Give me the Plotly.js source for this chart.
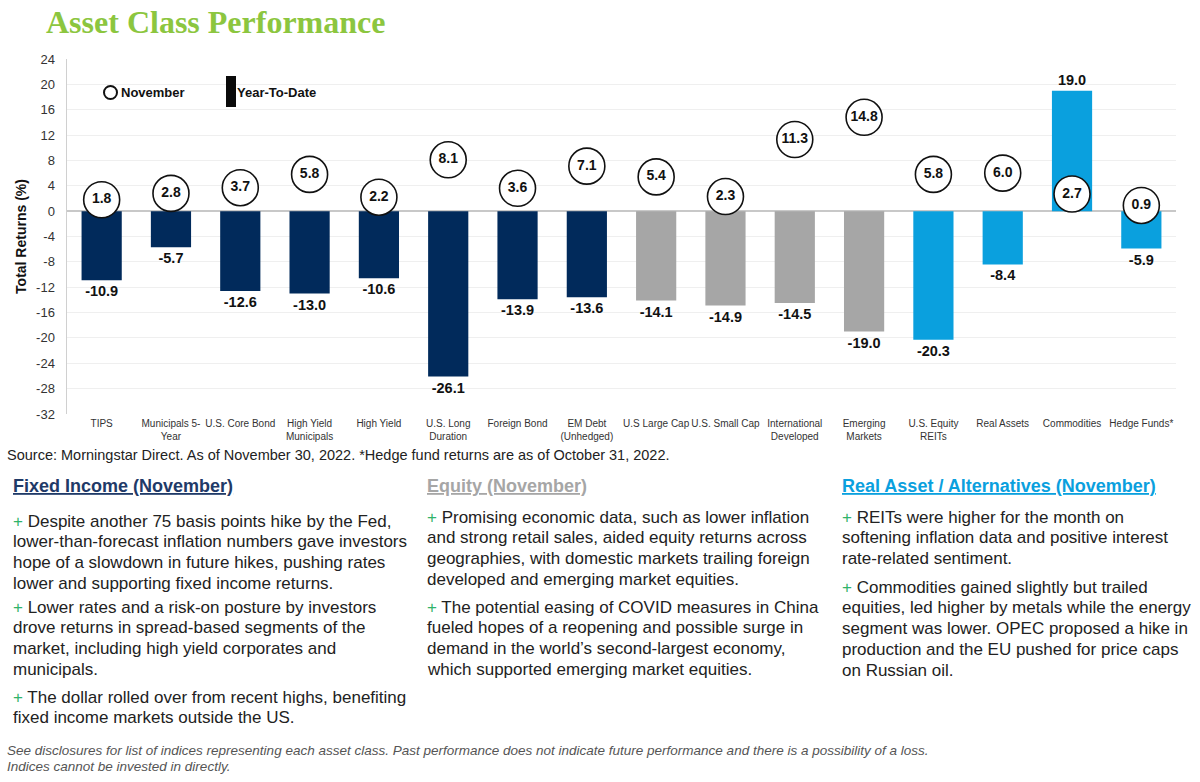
<!DOCTYPE html>
<html>
<head>
<meta charset="utf-8">
<script src="https://cdn.plot.ly/plotly-3.0.1.min.js"></script>
<style>html,body{margin:0;padding:0;background:#fff;}#chart{width:1200px;height:782px;}</style>
</head>
<body>
<div id="chart"></div>
<script>
// ---- data ----
const categories = ["TIPS", "Municipals 5-<br>Year", "U.S. Core Bond", "High Yield<br>Municipals", "High Yield",
  "U.S. Long<br>Duration", "Foreign Bond", "EM Debt<br>(Unhedged)", "U.S Large Cap", "U.S. Small Cap",
  "International<br>Developed", "Emerging<br>Markets", "U.S. Equity<br>REITs", "Real Assets", "Commodities", "Hedge Funds*"];
const ytdReturns = [-10.9, -5.7, -12.6, -13.0, -10.6, -26.1, -13.9, -13.6, -14.1, -14.9, -14.5, -19.0, -20.3, -8.4, 19.0, -5.9];
const novemberReturns = [1.8, 2.8, 3.7, 5.8, 2.2, 8.1, 3.6, 7.1, 5.4, 2.3, 11.3, 14.8, 5.8, 6.0, 2.7, 0.9];
const assetGroups = ["fixed","fixed","fixed","fixed","fixed","fixed","fixed","fixed",
  "equity","equity","equity","equity","real","real","real","real"];
const yTicks = [24, 20, 16, 12, 8, 4, 0, -4, -8, -12, -16, -20, -24, -28, -32];

const fixedIncomeNotes = [
  ["Despite another 75 basis points hike by the Fed,", "lower-than-forecast inflation numbers gave investors", "hope of a slowdown in future hikes, pushing rates", "lower and supporting fixed income returns."],
  ["Lower rates and a risk-on posture by investors", "drove returns in spread-based segments of the", "market, including high yield corporates and", "municipals."],
  ["The dollar rolled over from recent highs, benefiting", "fixed income markets outside the US."]
];
const equityNotes = [
  ["Promising economic data, such as lower inflation", "and strong retail sales, aided equity returns across", "geographies, with domestic markets trailing foreign", "developed and emerging market equities."],
  ["The potential easing of COVID measures in China", "fueled hopes of a reopening and possible surge in", "demand in the world’s second-largest economy,", "which supported emerging market equities."]
];
const realAssetNotes = [
  ["REITs were higher for the month on", "softening inflation data and positive interest", "rate-related sentiment."],
  ["Commodities gained slightly but trailed", "equities, led higher by metals while the energy", "segment was lower. OPEC proposed a hike in", "production and the EU pushed for price caps", "on Russian oil."]
];
const disclaimerLines = [
  "See disclosures for list of indices representing each asset class. Past performance does not indicate future performance and there is a possibility of a loss.",
  "Indices cannot be invested in directly."
];

const groupColors = {fixed: "#012a5b", equity: "#a6a6a6", real: "#0aa0de"};

// pixel -> paper helpers (plot area: x 67..1176, y 59..414)
const L = 67, R = 1176, T = 59, B = 414;
const px = v => (v - L) / (R - L);
const py = v => (B - v) / (B - T);

const font = "Liberation Sans, Arial, sans-serif";
const txt = "#222222";
const plus = '<span style="color:#2fb36a">+</span> ';

const barTrace = {
  type: "bar",
  x: categories,
  y: ytdReturns,
  marker: {color: assetGroups.map(g => groupColors[g])},
  width: 0.58,
  text: ytdReturns.map(v => "<b>" + v.toFixed(1) + "</b>"),
  textposition: "outside",
  textfont: {family: font, size: 14.5, color: "#111"},
  cliponaxis: false,
  hoverinfo: "skip",
  showlegend: false
};

const novTrace = {
  type: "scatter",
  mode: "markers+text",
  x: categories,
  y: novemberReturns,
  marker: {symbol: "circle", size: 36, color: "#ffffff", line: {color: "#111", width: 1.6}},
  text: novemberReturns.map(v => "<b>" + v.toFixed(1) + "</b>"),
  textposition: "middle center",
  textfont: {family: font, size: 14, color: "#111"},
  cliponaxis: false,
  hoverinfo: "skip",
  showlegend: false
};

function note(xp, yp, text, size, color, extra) {
  return Object.assign({
    xref: "paper", yref: "paper", x: px(xp), y: py(yp),
    xanchor: "left", yanchor: "middle", align: "left", showarrow: false,
    text: text, font: {family: font, size: size, color: color}
  }, extra || {});
}

const annotations = [
  note(44, 22, "<b>Asset Class Performance</b>", 32, "#8cc63f", {font: {family: "Liberation Serif, Times New Roman, serif", size: 32, color: "#8cc63f"}}),
  note(119, 92, "<b>November</b>", 13, "#111"),
  note(235, 92, "<b>Year-To-Date</b>", 13, "#111"),
  note(5, 455, "Source: Morningstar Direct. As of November 30, 2022. *Hedge fund returns are as of October 31, 2022.", 14.5, txt),
  note(11, 486, '<b><u>Fixed Income (November)</u></b>', 18, "#1f3a68"),
  note(425, 486, '<b><u>Equity (November)</u></b>', 18, "#a6a6a6"),
  note(840, 486, '<b><u>Real Asset / Alternatives (November)</u></b>', 18, "#0aa0de")
];

const pitch = 20.8;
function addParagraph(xp, firstY, lines) {
  lines.forEach((line, i) => {
    annotations.push(note(xp, firstY + i * pitch, (i === 0 ? plus : "") + line, 17, txt));
  });
}
addParagraph(11, 521, fixedIncomeNotes[0]);
addParagraph(11, 607, fixedIncomeNotes[1]);
addParagraph(11, 697, fixedIncomeNotes[2]);
addParagraph(425, 517, equityNotes[0]);
addParagraph(425, 607, equityNotes[1]);
addParagraph(840, 517, realAssetNotes[0]);
addParagraph(840, 587, realAssetNotes[1]);
disclaimerLines.forEach((line, i) => {
  annotations.push(note(5, 750 + i * 16, "<i>" + line + "</i>", 13.5, "#555555"));
});

const shapes = [
  {type: "circle", xref: "paper", yref: "paper", x0: px(104), x1: px(117), y0: py(99), y1: py(86), line: {color: "#111", width: 2}, fillcolor: "#fff"},
  {type: "rect", xref: "paper", yref: "paper", x0: px(226), x1: px(236), y0: py(107), y1: py(76), line: {width: 0}, fillcolor: "#0a0a0a"}
];

const layout = {
  width: 1200, height: 782,
  margin: {l: L, r: 1200 - R, t: T, b: 782 - B},
  paper_bgcolor: "#ffffff", plot_bgcolor: "#ffffff",
  font: {family: font, color: "#333"},
  showlegend: false,
  xaxis: {
    type: "category",
    range: [-0.5, 15.5],
    tickfont: {family: font, size: 10, color: "#333"},
    showgrid: false, showline: false, ticks: "", zeroline: false,
    tickangle: 0, ticklabelstandoff: 2
  },
  yaxis: {
    range: [-32, 24],
    tickvals: yTicks,
    ticktext: yTicks.map(String),
    tickfont: {family: font, size: 13, color: "#333"},
    showgrid: true, gridcolor: "#efefef", gridwidth: 1,
    zeroline: true, zerolinecolor: "#c8c8c8", zerolinewidth: 1.5,
    showline: true, linecolor: "#d0d0d0", linewidth: 1.5,
    ticks: "", ticklabelstandoff: 8,
    title: {text: "<b>Total Returns (%)</b>", font: {family: font, size: 14, color: "#111"}, standoff: 6}
  },
  annotations: annotations,
  shapes: shapes
};

Plotly.newPlot("chart", [barTrace, novTrace], layout, {displayModeBar: false, staticPlot: true});
</script>
</body>
</html>
